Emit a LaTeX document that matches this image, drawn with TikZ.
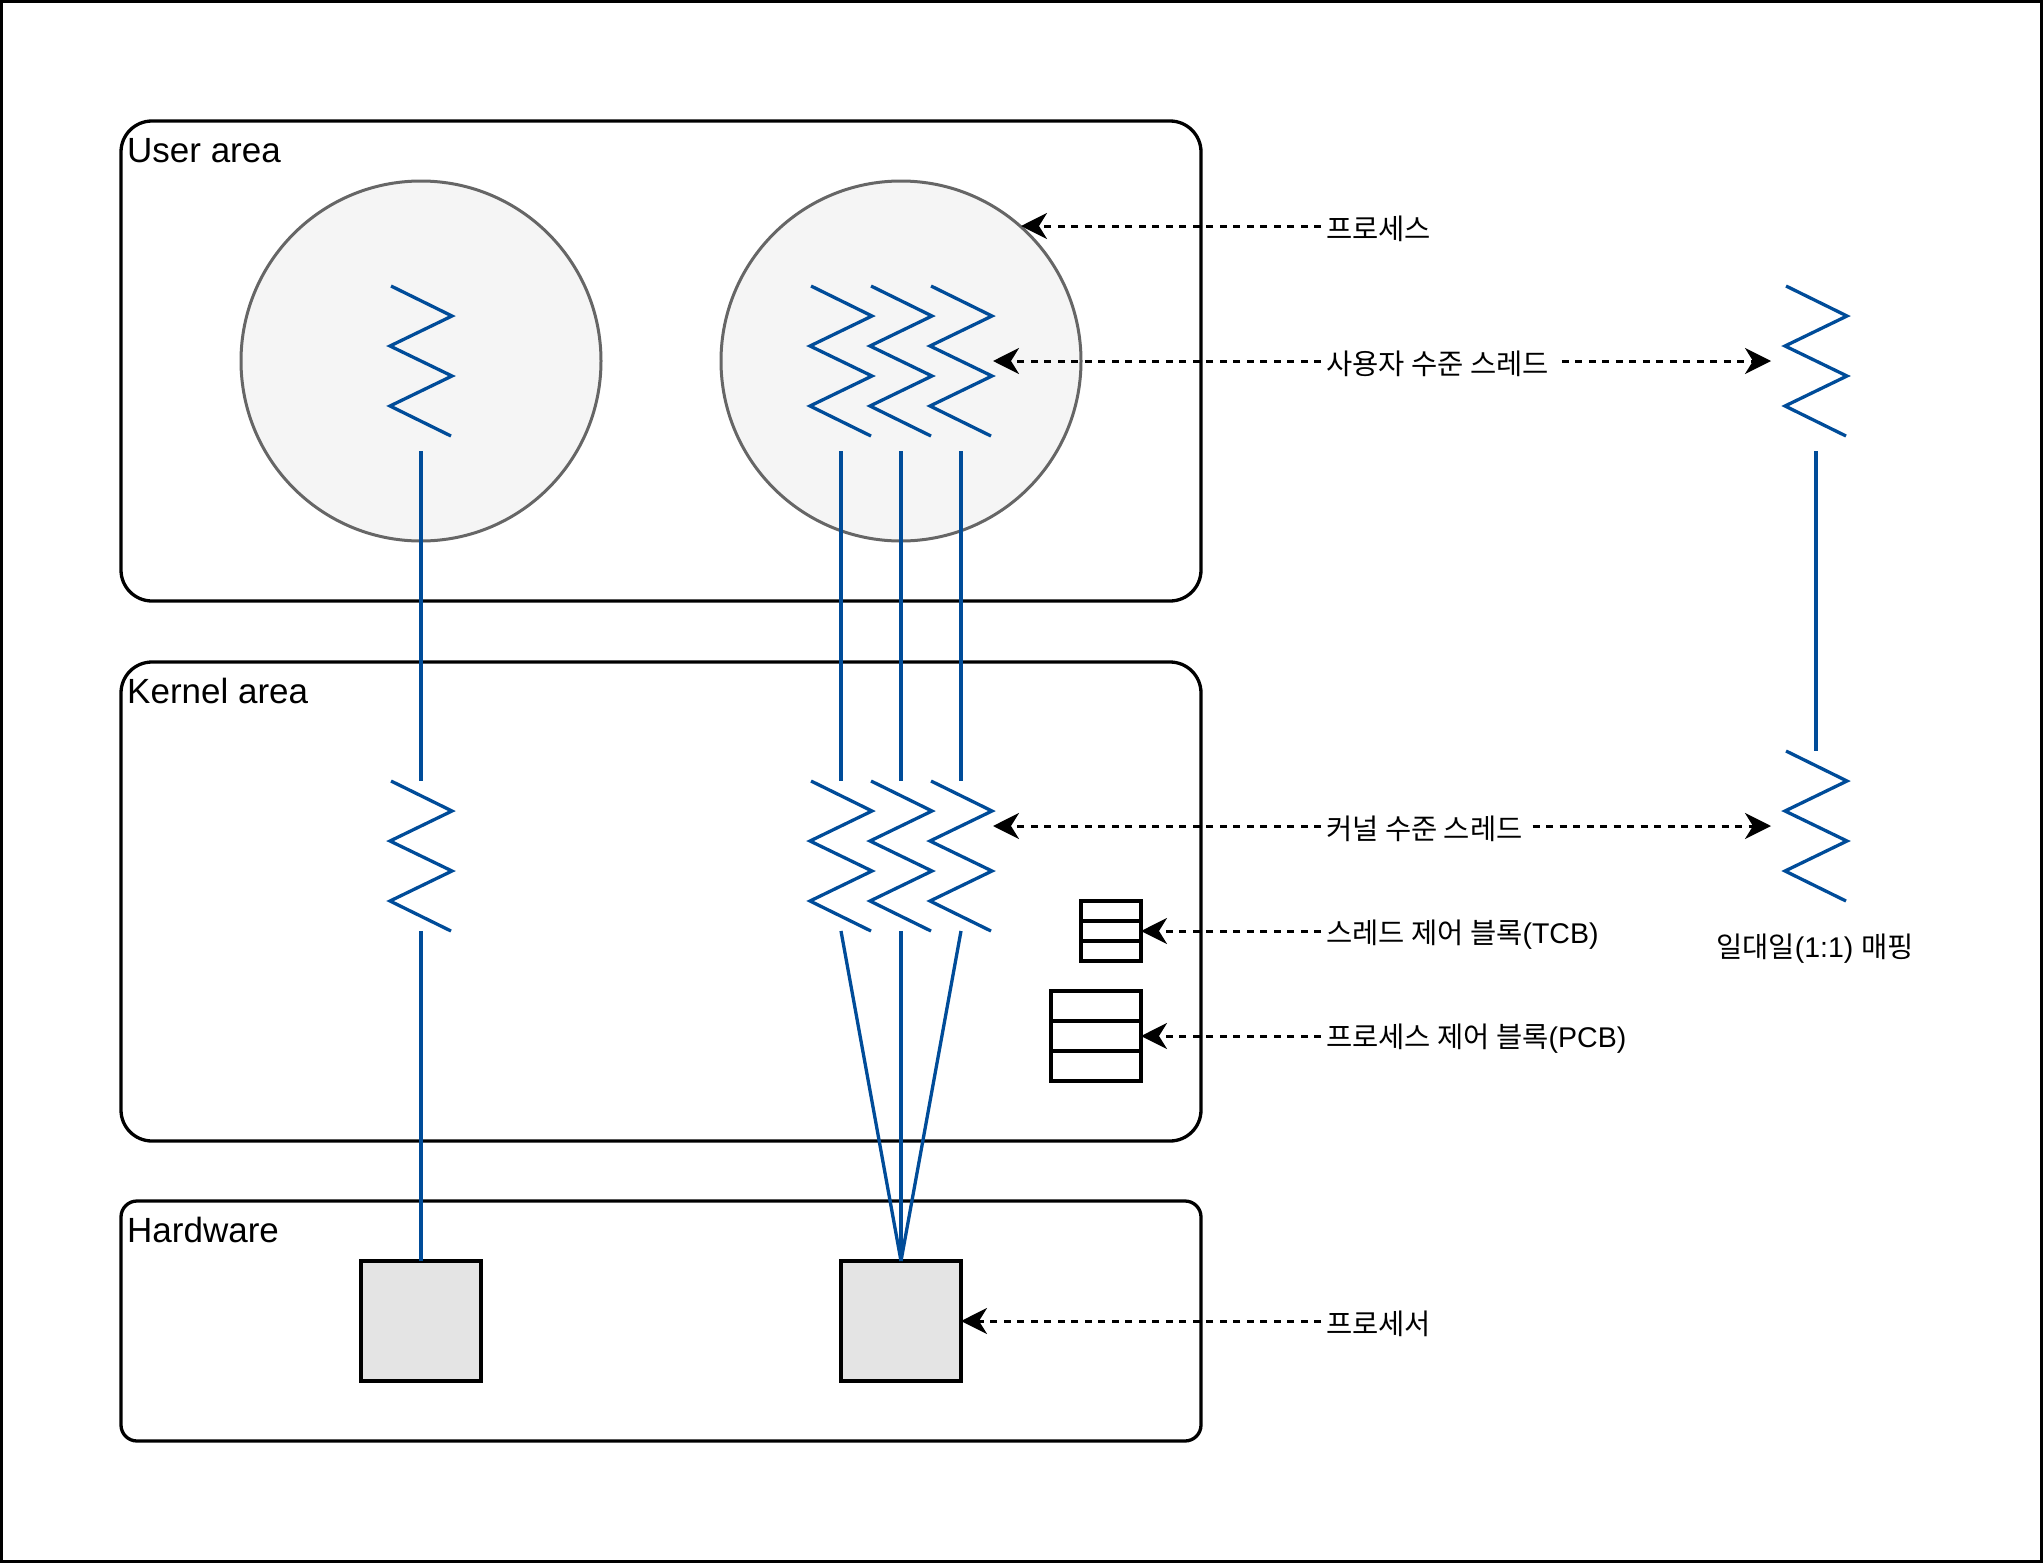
\documentclass[tikz,border=0pt]{standalone}
\usepackage{fontspec}
\setmainfont{Liberation Sans}
\newfontfamily\kr{Noto Sans CJK KR}
\usetikzlibrary{arrows.meta,calc}
\definecolor{thblue}{HTML}{004C99}
\definecolor{procfill}{HTML}{F5F5F5}
\definecolor{procline}{HTML}{666666}
\definecolor{cpufill}{HTML}{E4E4E4}
\tikzset{
  zig/.pic={
    \draw[thread] (-30,0) -- (31,30) -- (-31,60) -- (31,90) -- (-31,120) -- (30,150);
    \coordinate (-top) at (0,0);
    \coordinate (-bot) at (0,150);
    \coordinate (-out) at (0,165);
  }
}
\begin{document}
\begin{tikzpicture}[x=1pt,y=-1pt,
  thread/.style={draw=thblue, line width=3.3pt},
  area/.style={draw, line width=3.3pt, inner sep=0pt, outer sep=0pt, anchor=north west},
  areatitle/.style={anchor=base west, inner sep=0pt, font=\fontsize{35}{42}\selectfont},
  procc/.style={circle, draw=procline, fill=procfill, line width=3pt, minimum size=360pt, inner sep=0pt, outer sep=0pt},
  cpu/.style={rectangle, draw, fill=cpufill, line width=3.3pt, minimum size=120pt, inner sep=0pt, outer sep=0pt},
  blk/.style={rectangle, draw, line width=3.3pt, minimum width=60pt, inner sep=0pt, outer sep=0pt},
  lbl/.style={anchor=west, inner sep=0pt, font=\fontsize{28.5}{34}\selectfont},
  darr/.style={draw, line width=3pt, dash pattern=on 7pt off 6.5pt, -{Stealth[length=26pt, width=26pt, inset=8pt]}},
]
\useasboundingbox (0,0) rectangle (2043,1563);
\draw[line width=3.3pt] (1.6,1.6) rectangle (2041.4,1561.4);

% areas
\node[area, rounded corners=31pt, minimum width=1080pt, minimum height=480pt] (user) at (121,121) {};
\node[area, rounded corners=31pt, minimum width=1080pt, minimum height=479pt] (kern) at (121,662) {};
\node[area, rounded corners=16pt, minimum width=1080pt, minimum height=240pt] (hw) at (121,1201) {};
\node[areatitle] (tuser) at (127,162) {User area};
\node[areatitle] (tkern) at (127,703) {Kernel area};
\node[areatitle] (thw) at (127,1242) {Hardware};

% processes
\node[procc] (c1) at (421,361) {};
\node[procc] (c2) at (901,361) {};

% user-level threads
\pic (uL) at (421,286) {zig};
\pic (u1) at (841,286) {zig};
\pic (u2) at (901,286) {zig};
\pic (u3) at (961,286) {zig};
\pic (uR) at (1816,286) {zig};

% kernel-level threads
\pic (kL) at (421,781) {zig};
\pic (k1) at (841,781) {zig};
\pic (k2) at (901,781) {zig};
\pic (k3) at (961,781) {zig};
\pic (kR) at (1816,751) {zig};

% processors
\node[cpu] (pL) at (421,1321) {};
\node[cpu] (pR) at (901,1321) {};

% TCB / PCB
\node[blk, minimum height=60pt] (tcb) at (1111,931) {};
\draw[line width=3.3pt] ($(tcb.north west)!1/3!(tcb.south west)$) -- ($(tcb.north east)!1/3!(tcb.south east)$);
\draw[line width=3.3pt] ($(tcb.north west)!2/3!(tcb.south west)$) -- ($(tcb.north east)!2/3!(tcb.south east)$);
\node[blk, minimum width=90pt, minimum height=90pt] (pcb) at (1096,1036) {};
\draw[line width=3.3pt] ($(pcb.north west)!1/3!(pcb.south west)$) -- ($(pcb.north east)!1/3!(pcb.south east)$);
\draw[line width=3.3pt] ($(pcb.north west)!2/3!(pcb.south west)$) -- ($(pcb.north east)!2/3!(pcb.south east)$);

% thread mappings
\draw[thread] (uL-out) -- (kL-top);
\draw[thread] (u1-out) -- (k1-top);
\draw[thread] (u2-out) -- (k2-top);
\draw[thread] (u3-out) -- (k3-top);
\draw[thread] (uR-out) -- (kR-top);
\draw[thread] (kL-bot) -- (pL.north);
\draw[thread] (k1-bot) -- (pR.north);
\draw[thread] (k2-bot) -- (pR.north);
\draw[thread] (k3-bot) -- (pR.north);

% target points
\coordinate (uthrL) at (993,361);
\coordinate (uthrR) at (1771,361);
\coordinate (kthrL) at (993,826);
\coordinate (kthrR) at (1771,826);
\coordinate (procpt) at (1021,226);

% labels
\node[lbl] (lproc) at (1326,229) {\kr 프로세스};
\node[lbl] (luth) at (1326,364) {\kr 사용자 수준 스레드};
\node[lbl] (lkth) at (1326,829) {\kr 커널 수준 스레드};
\node[lbl] (ltcb) at (1326,935) {{\kr 스레드 제어 블록}(TCB)};
\node[lbl] (lpcb) at (1326,1039) {{\kr 프로세스 제어 블록}(PCB)};
\node[lbl] (lcpu) at (1326,1324) {\kr 프로세서};
\node[inner sep=0pt, font=\fontsize{28.5}{34}\selectfont] (lmap) at (1815,949) {{\kr 일대일}(1:1) {\kr 매핑}};

% arrows
\draw[darr] ([xshift=-5pt,yshift=3pt]lproc.west) -- (procpt);
\draw[darr] ([xshift=-5pt,yshift=3pt]luth.west) -- (uthrL);
\draw[darr] ([xshift=13pt,yshift=3pt]luth.east) -- (uthrR);
\draw[darr] ([xshift=-5pt,yshift=3pt]lkth.west) -- (kthrL);
\draw[darr] ([xshift=10pt,yshift=3pt]lkth.east) -- (kthrR);
\draw[darr] ([xshift=-5pt,yshift=4pt]ltcb.west) -- (tcb.east);
\draw[darr] ([xshift=-5pt,yshift=3pt]lpcb.west) -- (pcb.east);
\draw[darr] ([xshift=-5pt,yshift=3pt]lcpu.west) -- (pR.east);
\end{tikzpicture}
\end{document}
